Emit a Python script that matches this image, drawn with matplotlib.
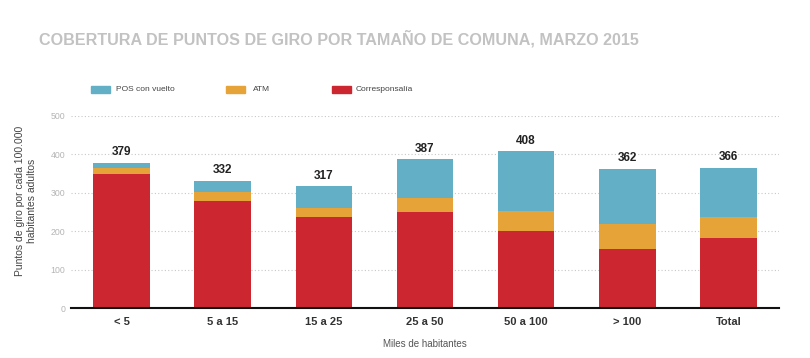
import matplotlib.pyplot as plt
from matplotlib.patches import Rectangle
import numpy as np

plt.rcParams['font.family'] = ['Liberation Sans', 'DejaVu Sans']

categories = ["< 5", "5 a 15", "15 a 25", "25 a 50", "50 a 100", "> 100", "Total"]
corresponsalia = [350, 278, 236, 251, 200, 155, 183]
atm = [15, 25, 25, 37, 54, 65, 55]
pos = [14, 29, 56, 99, 154, 142, 128]
totals = [379, 332, 317, 387, 408, 362, 366]

red = '#cc2730'
orange = '#e6a337'
blue = '#63b0c6'

fig = plt.figure(figsize=(8.1, 3.58), dpi=100)
ax = fig.add_axes([0.0877, 0.139, 0.874, 0.537])

x = np.arange(len(categories))
w = 0.56
bottom2 = np.array(corresponsalia) + np.array(atm)
ax.bar(x, corresponsalia, w, color=red, zorder=3)
ax.bar(x, atm, w, bottom=corresponsalia, color=orange, zorder=3)
ax.bar(x, pos, w, bottom=bottom2, color=blue, zorder=3)

for xi, t in zip(x, totals):
    ax.text(xi, t + 12, str(t), ha='center', va='bottom', fontsize=8.5,
            fontweight='bold', color='#222222')

ax.set_xlim(-0.5, 6.5)
ax.set_ylim(0, 500)
ax.set_yticks([0, 100, 200, 300, 400, 500])
ax.yaxis.grid(True, linestyle=(0, (1, 2)), color='#c8c8c8', linewidth=0.8, zorder=0)
ax.tick_params(axis='y', length=0, labelsize=6.3, labelcolor='#b5b5b5', pad=4)
ax.set_xticks(x)
ax.set_xticklabels(categories, fontsize=8, fontweight='bold', color='#333333')
ax.tick_params(axis='x', length=0, pad=6)
for s in ['top', 'right', 'left']:
    ax.spines[s].set_visible(False)
ax.spines['bottom'].set_linewidth(1.5)
ax.spines['bottom'].set_color('#111111')
ax.spines['bottom'].set_zorder(4)

ax.set_ylabel("Puntos de giro por cada 100.000\nhabitantes adultos", fontsize=7.5,
              color='#444444', labelpad=10, linespacing=1.2)
ax.yaxis.label.set_y(0.558)
ax.set_xlabel("Miles de habitantes", fontsize=7, color='#555555', labelpad=9)

fig.text(0.048, 0.893, "COBERTURA DE PUNTOS DE GIRO POR TAMAÑO DE COMUNA, MARZO 2015",
         fontsize=11.6, fontweight='bold', color='#c2c2c2', va='center')

# legend drawn by hand so the uneven spacing matches
legend_items = [("POS con vuelto", blue, 91, 116),
                ("ATM", orange, 226, 253),
                ("Corresponsalía", red, 332, 356)]
W, H = 810.0, 358.0
for label, col, px, tx in legend_items:
    fig.patches.append(Rectangle((px / W, 1 - 93 / H), 19 / W, 7 / H,
                                 transform=fig.transFigure, color=col))
    fig.text(tx / W, 1 - 89.5 / H, label, fontsize=6, color='#444444', va='center')

fig.savefig('out.png', dpi=100, facecolor='white')
